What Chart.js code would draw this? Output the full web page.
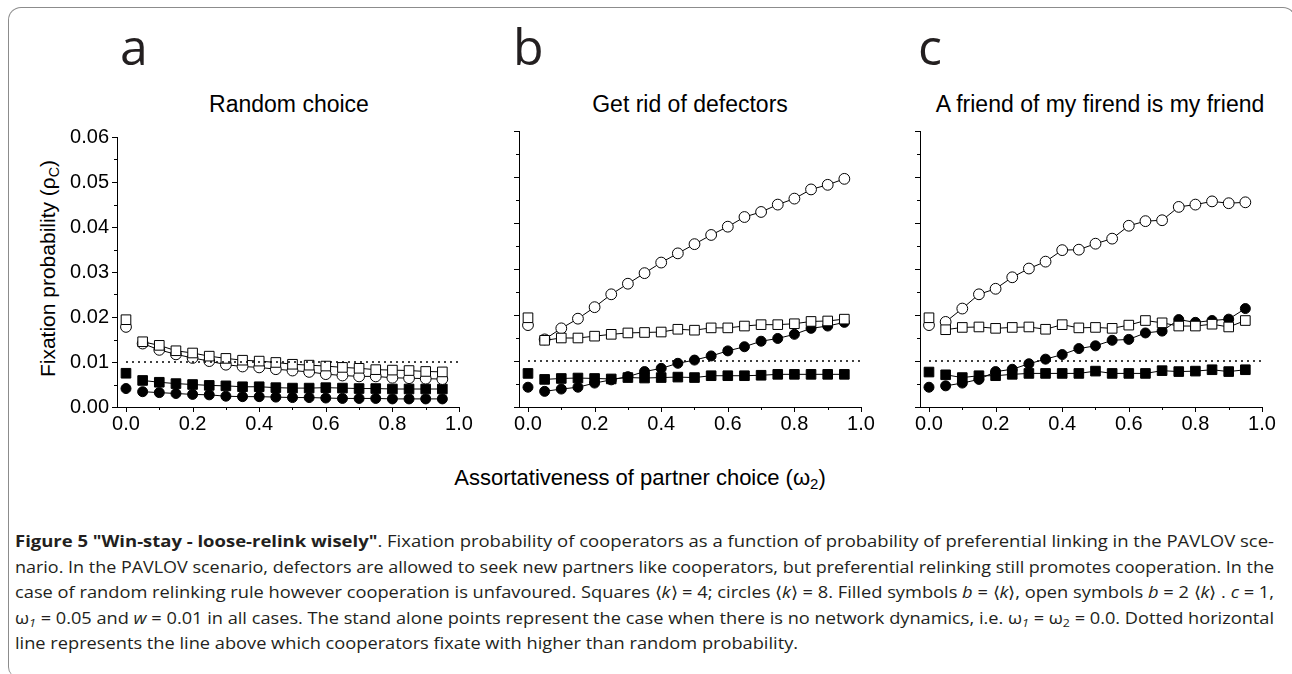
<!DOCTYPE html>
<html><head><meta charset="utf-8">
<script src="https://cdn.jsdelivr.net/npm/chart.js@4.4.0/dist/chart.umd.min.js"></script>
<style>
html,body{margin:0;padding:0;background:#fff;width:1292px;height:674px;overflow:hidden;position:relative;}
.frame{position:absolute;left:8px;top:7px;width:1288px;height:670px;box-sizing:border-box;border-left:1.5px solid #8c8c8c;border-top:1.5px solid #8c8c8c;border-right:1.5px solid #8c8c8c;border-radius:13px 13px 0 10px;}
canvas.cv{position:absolute;top:117px;}
.lbl{position:absolute;top:21px;font-family:'Open Sans',sans-serif;font-size:50px;line-height:50px;color:#231f20;}
.ttl{position:absolute;top:93px;font-family:'Liberation Sans',Arial,sans-serif;font-size:23px;line-height:23px;color:#000;white-space:nowrap;transform:translateX(-50%);}
.ytitle{position:absolute;left:-103.5px;top:258px;width:300px;text-align:center;font-family:'Liberation Sans',Arial,sans-serif;font-size:21px;line-height:21px;color:#000;transform:rotate(-90deg);white-space:nowrap;}
.xtitle{position:absolute;left:340px;width:600px;top:467px;text-align:center;font-family:'Liberation Sans',Arial,sans-serif;font-size:22px;line-height:22px;color:#000;white-space:nowrap;}
sub{font-size:0.68em;line-height:0;vertical-align:-0.3em;}
.cap{position:absolute;left:15px;font-family:'Open Sans',sans-serif;font-size:16px;line-height:25px;color:#231f20;white-space:nowrap;}
.cap span.in{display:inline-block;transform-origin:0 50%;}
.cap b{font-weight:700;}
</style>
</head>
<body>
<div class="frame"></div>
<div class="lbl" style="left:120px">a</div>
<div class="lbl" style="left:513px">b</div>
<div class="lbl" style="left:918px">c</div>
<div class="ttl" style="left:289px">Random choice</div>
<div class="ttl" style="left:690px">Get rid of defectors</div>
<div class="ttl" style="left:1100px">A friend of my firend is my friend</div>
<div class="ytitle">Fixation probability (ρ<sub>C</sub>)</div>
<div class="xtitle">Assortativeness of partner choice (ω<sub>2</sub>)</div>
<canvas class="cv" id="pa" width="482" height="330" style="left:7px"></canvas>
<canvas class="cv" id="pb" width="482" height="330" style="left:409px"></canvas>
<canvas class="cv" id="pc" width="482" height="330" style="left:810px"></canvas>

<div class="cap" style="top:529px"><span class="in j"><b>Figure 5 "Win-stay - loose-relink wisely"</b>. Fixation probability of cooperators as a function of probability of preferential linking in the PAVLOV sce-</span></div>
<div class="cap" style="top:554.5px"><span class="in j">nario. In the PAVLOV scenario, defectors are allowed to seek new partners like cooperators, but preferential relinking still promotes cooperation. In the</span></div>
<div class="cap" style="top:580px"><span class="in j">case of random relinking rule however cooperation is unfavoured. Squares ⟨<i>k</i>⟩ = 4; circles ⟨<i>k</i>⟩ = 8. Filled symbols <i>b</i> = ⟨<i>k</i>⟩, open symbols <i>b</i> = 2 ⟨<i>k</i>⟩ . <i>c</i> = 1,</span></div>
<div class="cap" style="top:605.5px"><span class="in j">ω<sub><i>1</i></sub> = 0.05 and <i>w</i> = 0.01 in all cases. The stand alone points represent the case when there is no network dynamics, i.e. ω<sub><i>1</i></sub> = ω<sub>2</sub> = 0.0. Dotted horizontal</span></div>
<div class="cap" style="top:631px"><span class="in l">line represents the line above which cooperators fixate with higher than random probability.</span></div>

<script>
// ---- data ----
const omega2 = [0.05,0.10,0.15,0.20,0.25,0.30,0.35,0.40,0.45,0.50,0.55,0.60,0.65,0.70,0.75,0.80,0.85,0.90,0.95];
const standaloneX = [0.0];
const xTickLabels = [0.0,0.2,0.4,0.6,0.8,1.0];
const yTickLabels = [0.00,0.01,0.02,0.03,0.04,0.05,0.06];
const randomLevel = 0.01;

// panel a: Random choice
const aOpenSquares   = [0.0145,0.0137,0.0125,0.0120,0.0113,0.0108,0.0104,0.0102,0.0099,0.0095,0.0093,0.0091,0.0088,0.0086,0.0083,0.0082,0.0081,0.0079,0.0078];
const aOpenCircles   = [0.0141,0.0127,0.0117,0.0109,0.0102,0.0094,0.0090,0.0088,0.0084,0.0081,0.0078,0.0073,0.0070,0.0068,0.0068,0.0065,0.0064,0.0063,0.0062];
const aFilledSquares = [0.0059,0.0055,0.0052,0.0050,0.0048,0.0047,0.0045,0.0045,0.0043,0.0042,0.0042,0.0043,0.0042,0.0041,0.0041,0.0040,0.0040,0.0040,0.0040];
const aFilledCircles = [0.0034,0.0032,0.0030,0.0028,0.0027,0.0024,0.0023,0.0023,0.0022,0.0021,0.0021,0.0020,0.0019,0.0019,0.0019,0.0018,0.0018,0.0018,0.0018];
const aStandalone    = [0.0194,0.0178,0.0075,0.0041]; // open sq, open circ, filled sq, filled circ

// panel b: Get rid of defectors
const bOpenSquares   = [0.0145,0.0150,0.0150,0.0154,0.0158,0.0161,0.0162,0.0163,0.0169,0.0167,0.0172,0.0172,0.0176,0.0179,0.0179,0.0181,0.0186,0.0187,0.0191];
const bOpenCircles   = [0.0147,0.0171,0.0192,0.0217,0.0245,0.0268,0.0291,0.0314,0.0334,0.0354,0.0374,0.0392,0.0413,0.0424,0.0440,0.0453,0.0473,0.0483,0.0496];
const bFilledSquares = [0.0060,0.0062,0.0063,0.0062,0.0061,0.0064,0.0063,0.0064,0.0065,0.0064,0.0068,0.0068,0.0068,0.0069,0.0071,0.0071,0.0071,0.0071,0.0071];
const bFilledCircles = [0.0034,0.0039,0.0043,0.0052,0.0059,0.0066,0.0077,0.0084,0.0095,0.0102,0.0111,0.0122,0.0131,0.0143,0.0149,0.0158,0.0171,0.0176,0.0184];
const bStandalone    = [0.0194,0.0178,0.0073,0.0043];

// panel c: A friend of my friend is my friend
const cOpenSquares   = [0.0168,0.0173,0.0174,0.0171,0.0173,0.0174,0.0169,0.0179,0.0172,0.0173,0.0171,0.0178,0.0188,0.0183,0.0176,0.0176,0.0180,0.0174,0.0188];
const cOpenCircles   = [0.0185,0.0214,0.0245,0.0257,0.0282,0.0301,0.0316,0.0341,0.0342,0.0355,0.0366,0.0394,0.0404,0.0406,0.0435,0.0440,0.0447,0.0443,0.0445];
const cFilledSquares = [0.0070,0.0064,0.0068,0.0068,0.0071,0.0073,0.0073,0.0073,0.0073,0.0078,0.0073,0.0073,0.0073,0.0079,0.0077,0.0078,0.0081,0.0077,0.0081];
const cFilledCircles = [0.0046,0.0052,0.0060,0.0077,0.0082,0.0094,0.0104,0.0114,0.0127,0.0133,0.0145,0.0147,0.0161,0.0165,0.0190,0.0184,0.0188,0.0191,0.0214];
const cStandalone    = [0.0194,0.0178,0.0076,0.0043];

// ---- styles ----
const styles = [
  {pointStyle:'rect',   radius:6.8, bg:'#fff', fg:'#000'}, // open squares
  {pointStyle:'circle', radius:5.4, bg:'#fff', fg:'#000'}, // open circles
  {pointStyle:'rect',   radius:6.8, bg:'#000', fg:'#000'}, // filled squares
  {pointStyle:'circle', radius:5.0, bg:'#000', fg:'#000'}  // filled circles
];

const tickMarks = {
  id:'tickMarks',
  afterDraw(chart){
    const ctx = chart.ctx, xs = chart.scales.x, ys = chart.scales.y;
    const left = chart.chartArea.left, bottom = chart.chartArea.bottom;
    ctx.save();
    ctx.strokeStyle = '#000'; ctx.lineWidth = 1;
    ctx.beginPath();
    for (let i = 0; i < yTickLabels.length; i++) {
      const py = Math.round(ys.getPixelForValue(yTickLabels[i])) + 0.5;
      ctx.moveTo(left - 5, py); ctx.lineTo(left, py);
      if (i < yTickLabels.length - 1) {
        const my = Math.round(ys.getPixelForValue((yTickLabels[i] + yTickLabels[i+1]) / 2)) + 0.5;
        ctx.moveTo(left - 3, my); ctx.lineTo(left, my);
      }
    }
    for (let i = 0; i < xTickLabels.length; i++) {
      const px = Math.round(xs.getPixelForValue(xTickLabels[i])) + 0.5;
      ctx.moveTo(px, bottom); ctx.lineTo(px, bottom + 5);
      if (i < xTickLabels.length - 1) {
        const mx = Math.round(xs.getPixelForValue((xTickLabels[i] + xTickLabels[i+1]) / 2)) + 0.5;
        ctx.moveTo(mx, bottom); ctx.lineTo(mx, bottom + 3);
      }
    }
    ctx.stroke();
    ctx.restore();
  }
};

function makePanel(id, series, standalone, showY) {
  const datasets = [];
  datasets.push({
    data: [{x:0, y:randomLevel}, {x:1, y:randomLevel}],
    showLine:true, borderColor:'#000', borderWidth:1.6, borderDash:[2,4],
    pointRadius:0, fill:false, clip:false
  });
  series.forEach((vals, k) => {
    const s = styles[k];
    datasets.push({
      data: omega2.map((x, i) => ({x, y: vals[i]})),
      showLine:true, borderColor:'#000', borderWidth:1,
      pointStyle:s.pointStyle, pointRadius:s.radius, pointBackgroundColor:s.bg,
      pointBorderColor:s.fg, pointBorderWidth:1, clip:false
    });
    datasets.push({
      data: standaloneX.map(x => ({x, y: standalone[k]})),
      showLine:false,
      pointStyle:s.pointStyle, pointRadius:s.radius, pointBackgroundColor:s.bg,
      pointBorderColor:s.fg, pointBorderWidth:1, clip:false
    });
  });
  new Chart(document.getElementById(id), {
    type:'scatter',
    data:{datasets},
    plugins:[tickMarks],
    options:{
      animation:false, responsive:false, devicePixelRatio:1,
      layout:{padding:{top:14, right:30, left:0, bottom:0}},
      plugins:{legend:{display:false}, tooltip:{enabled:false}},
      scales:{
        x:{
          type:'linear', min:-0.027, max:1.0,
          afterBuildTicks(s){ s.ticks = xTickLabels.map(v => ({value:v})); },
          afterFit(s){ s.height = 40; },
          grid:{display:false, drawTicks:false},
          border:{display:true, color:'#000', width:1},
          ticks:{padding:5, color:'#000', maxRotation:0, autoSkip:false,
                 font:{family:'Liberation Sans', size:20},
                 callback:(v) => Number(v).toFixed(1)}
        },
        y:{
          type:'linear', min:0, max:0.06,
          afterBuildTicks(s){ s.ticks = yTickLabels.map(v => ({value:v})); },
          afterFit(s){ s.width = 110; },
          grid:{display:false, drawTicks:false},
          border:{display:true, color:'#000', width:1},
          ticks:{display:showY, padding:8, color:'#000',
                 font:{family:'Liberation Sans', size:20},
                 callback:(v) => Number(v).toFixed(2)}
        }
      }
    }
  });
}

makePanel('pa', [aOpenSquares, aOpenCircles, aFilledSquares, aFilledCircles], aStandalone, true);
makePanel('pb', [bOpenSquares, bOpenCircles, bFilledSquares, bFilledCircles], bStandalone, false);
makePanel('pc', [cOpenSquares, cOpenCircles, cFilledSquares, cFilledCircles], cStandalone, false);

// fit caption lines to the column width
function fitCaption(){
  const target = 1259;
  const spans = Array.from(document.querySelectorAll('.cap span.in'));
  let sum = 0, n = 0;
  spans.forEach(sp => { sp.style.transform = 'none'; });
  spans.filter(sp => sp.classList.contains('j')).forEach(sp => {
    const w = sp.getBoundingClientRect().width;
    const k = target / w; sum += k; n++;
    sp.style.transform = 'scaleX(' + k + ')';
  });
  const avg = n ? sum / n : 1;
  spans.filter(sp => sp.classList.contains('l')).forEach(sp => {
    sp.style.transform = 'scaleX(' + avg + ')';
  });
}
fitCaption();
if (document.fonts && document.fonts.ready) document.fonts.ready.then(fitCaption);
</script>
</body></html>
